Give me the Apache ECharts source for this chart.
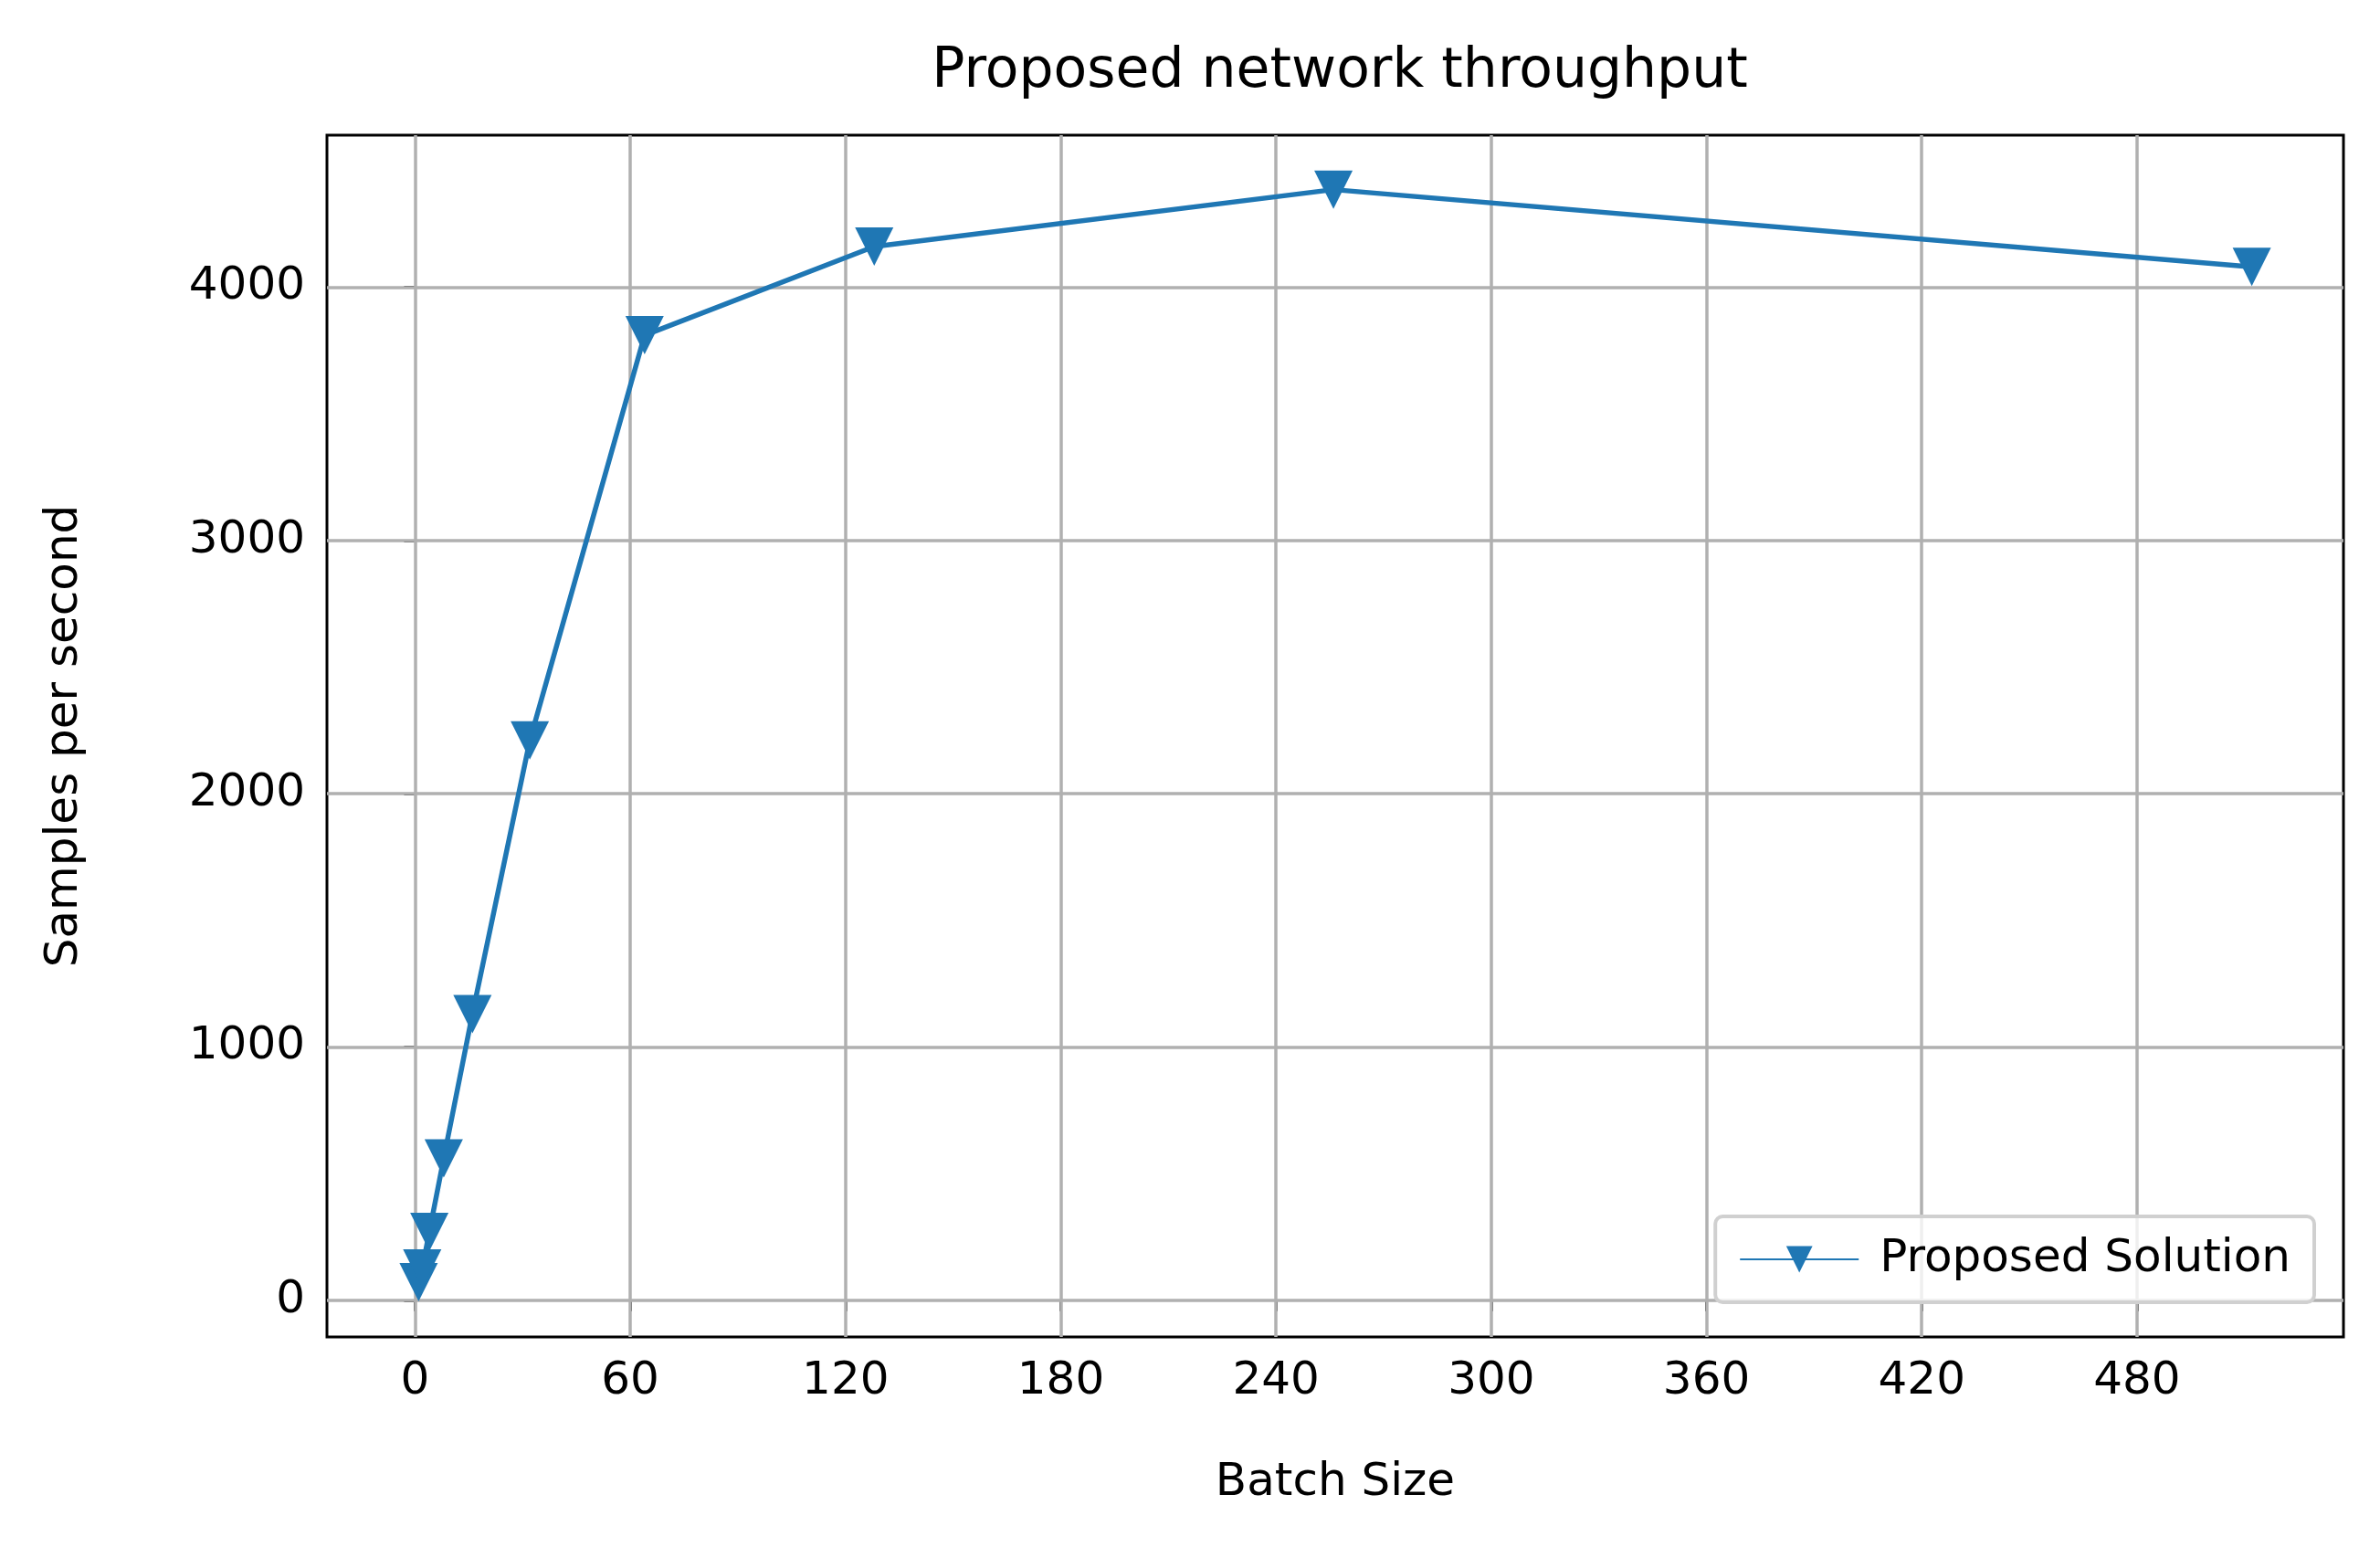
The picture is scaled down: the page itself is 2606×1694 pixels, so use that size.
<!DOCTYPE html>
<html>
<head>
<meta charset="utf-8" />
<script src="https://cdn.jsdelivr.net/npm/echarts@6/dist/echarts.min.js"></script>
<style>html,body{margin:0;padding:0;background:#fff}</style>
</head>
<body>
<div id="main" style="width:2606px;height:1694px;"></div>
<script>
var batchSizes = [1, 2, 4, 8, 16, 32, 64, 128, 256, 512];
var throughput = [71, 125, 270, 560, 1130, 2210, 3810, 4160, 4385, 4080];
var xTicks = [0, 60, 120, 180, 240, 300, 360, 420, 480];
var yTicks = [0, 1000, 2000, 3000, 4000];

var font = 'DejaVu Sans';
var chart = echarts.init(document.getElementById('main'));
var gridLines = [];
xTicks.forEach(function (v) { gridLines.push({ xAxis: v }); });
yTicks.forEach(function (v) { gridLines.push({ yAxis: v }); });

chart.setOption({
  animation: false,
  backgroundColor: '#fff',
  title: {
    text: 'Proposed network throughput', left: 1462, top: 44, textAlign: 'center',
    textStyle: { fontFamily: font, fontWeight: 'normal', fontSize: 60, color: '#000' }
  },
  legend: {
    right: 72, bottom: 268, orient: 'vertical',
    padding: [22, 26, 22, 26],
    borderColor: '#d0d0d0', borderWidth: 4, borderRadius: 8,
    backgroundColor: 'rgba(255,255,255,0.8)',
    itemWidth: 130, itemHeight: 36,
    textStyle: { fontFamily: font, fontSize: 50, color: '#000', padding: [0, 0, 0, 18] },
    data: ['Proposed Solution']
  },
  grid: {
    left: 358, right: 40, top: 148, bottom: 230, show: true,
    borderColor: '#000', borderWidth: 3, backgroundColor: 'transparent'
  },
  xAxis: {
    type: 'value', min: -24.55, max: 537.55,
    name: 'Batch Size', nameLocation: 'middle', nameGap: 135,
    nameTextStyle: { fontFamily: font, fontSize: 50, color: '#000' },
    axisLine: { show: false },
    splitLine: { show: false },
    axisTick: { show: true, customValues: xTicks, length: 12, lineStyle: { color: '#000', width: 3 } },
    axisLabel: { customValues: xTicks, formatter: function (v) { return String(v); }, fontFamily: font, fontSize: 50, color: '#000', margin: 24 }
  },
  yAxis: {
    type: 'value', min: -145, max: 4600,
    name: 'Samples per second', nameLocation: 'middle', nameGap: 262,
    nameTextStyle: { fontFamily: font, fontSize: 50, color: '#000' },
    axisLine: { show: false },
    splitLine: { show: false },
    axisTick: { show: true, customValues: yTicks, length: 12, lineStyle: { color: '#000', width: 3 } },
    axisLabel: { customValues: yTicks, formatter: function (v) { return String(v); }, fontFamily: font, fontSize: 50, color: '#000', margin: 24 }
  },
  series: [{
    name: 'Proposed Solution', type: 'line',
    data: batchSizes.map(function (b, i) { return [b, throughput[i]]; }),
    symbol: 'triangle', symbolRotate: 180, symbolSize: 42,
    color: '#1f77b4',
    lineStyle: { width: 5.5, color: '#1f77b4' },
    itemStyle: { color: '#1f77b4' },
    markLine: {
      silent: true, symbol: 'none', label: { show: false },
      lineStyle: { color: '#b0b0b0', width: 3.5, type: 'solid' },
      data: gridLines, z: 1
    }
  }]
});
</script>
</body>
</html>
